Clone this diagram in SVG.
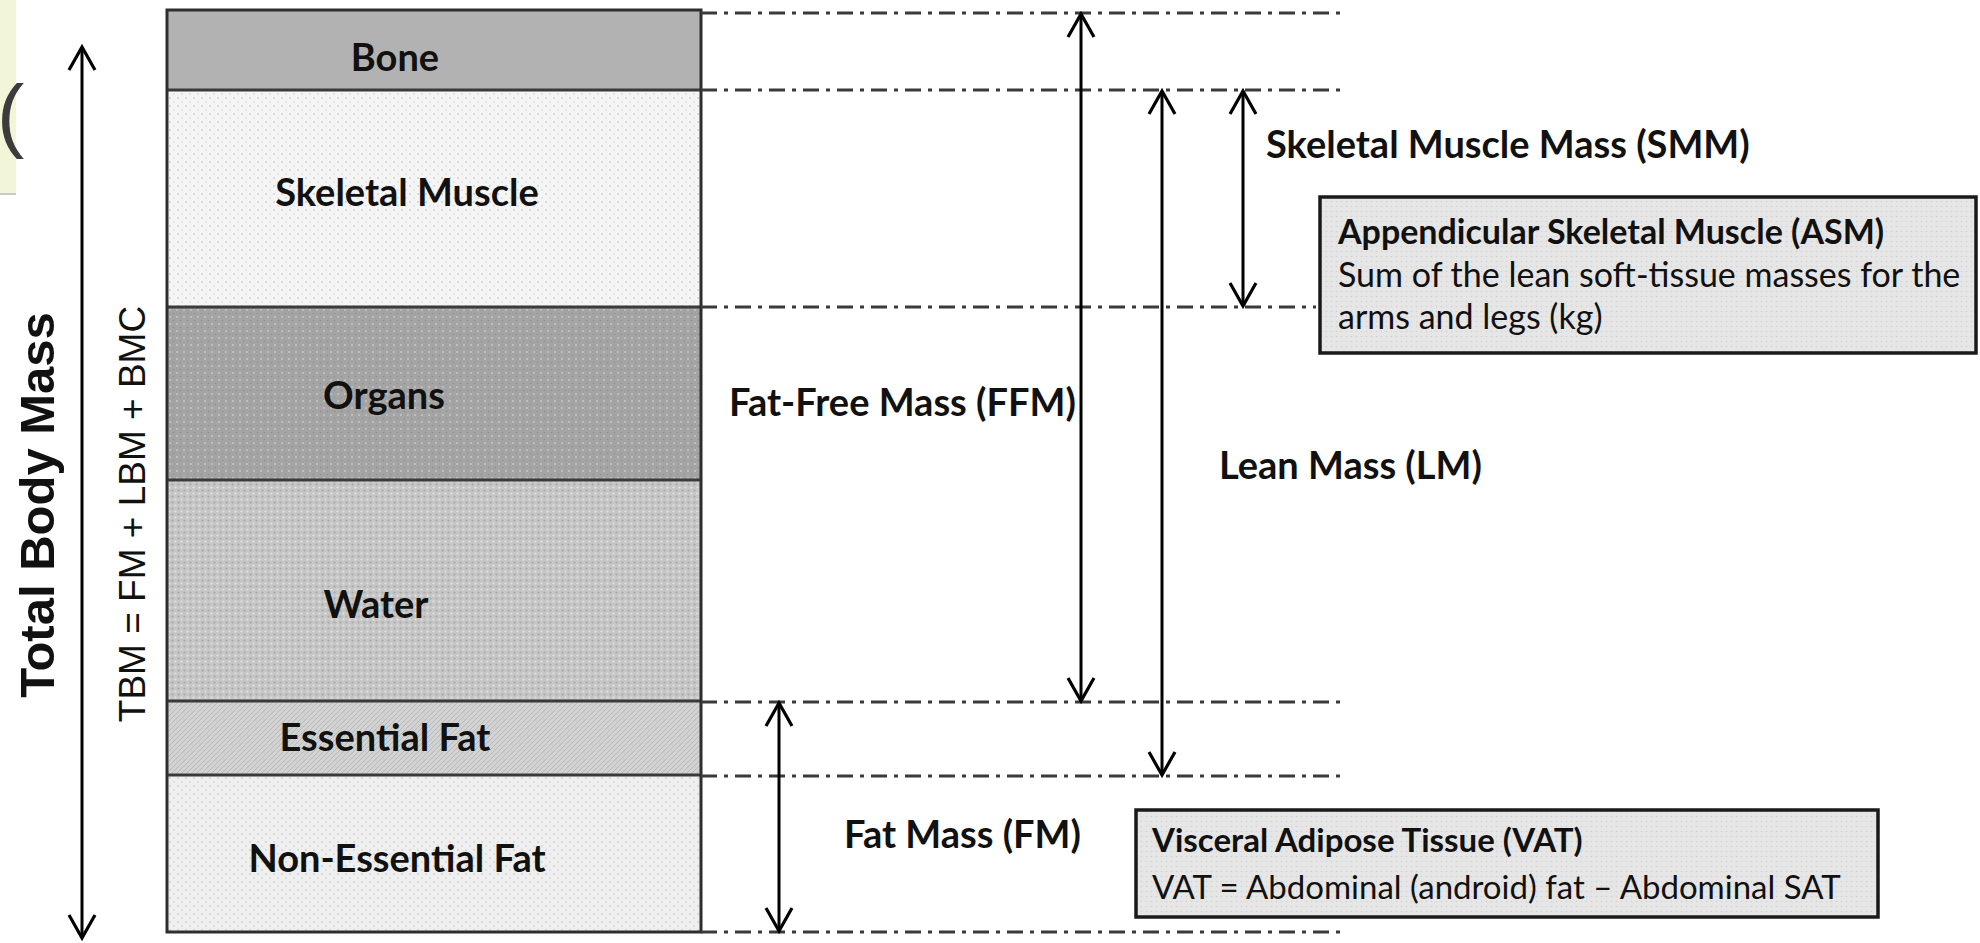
<svg xmlns="http://www.w3.org/2000/svg" width="1980" height="943" viewBox="0 0 1980 943">
<defs>
<style>
.lbl{font-family:Lato,"Liberation Sans",sans-serif;font-weight:bold;font-size:38px;fill:#111}
.box-t{font-family:Lato,"Liberation Sans",sans-serif;font-size:34px;fill:#111}
.vat-t{font-family:Lato,"Liberation Sans",sans-serif;font-size:33px;fill:#111}
.box-b{font-weight:bold}
.dash{stroke:#3a3a3a;stroke-width:3;stroke-dasharray:16 7 4 7;fill:none}
.arr{stroke:#000;stroke-width:3;fill:none;marker-start:url(#ah);marker-end:url(#ah)}
.div{stroke:#3a3a3a;stroke-width:3}
.box{stroke:#1a1a1a;stroke-width:3.5}
</style>
<marker id="ah" markerUnits="userSpaceOnUse" viewBox="-26 -16 30 32" markerWidth="30" markerHeight="32" refX="0" refY="0" orient="auto-start-reverse">
<path d="M-23,-13 L0,0 L-23,13" fill="none" stroke="#000" stroke-width="3.2"/>
</marker>
<pattern id="pSM" width="8" height="8" patternUnits="userSpaceOnUse">
<rect width="8" height="8" fill="#f5f5f5"/><circle cx="2" cy="2" r="0.9" fill="#cfcfcf"/><circle cx="6" cy="6" r="0.9" fill="#dcdcdc"/>
</pattern>
<pattern id="pOrg" width="7" height="7" patternUnits="userSpaceOnUse">
<rect width="7" height="7" fill="#a4a4a4"/><circle cx="2" cy="2" r="1" fill="#c4c4c4"/><circle cx="5.5" cy="5.5" r="0.8" fill="#8e8e8e"/>
</pattern>
<pattern id="pWat" width="6" height="6" patternUnits="userSpaceOnUse">
<rect width="6" height="6" fill="#c6c6c6"/><circle cx="1.5" cy="1.5" r="1.1" fill="#e2e2e2"/><circle cx="4.5" cy="4.5" r="1.1" fill="#a8a8a8"/>
</pattern>
<pattern id="pEF" width="5" height="5" patternUnits="userSpaceOnUse">
<rect width="5" height="5" fill="#d2d2d2"/><path d="M0,5 L5,0" stroke="#bababa" stroke-width="1"/>
</pattern>
<pattern id="pNEF" width="8" height="8" patternUnits="userSpaceOnUse">
<rect width="8" height="8" fill="#efefef"/><circle cx="2" cy="2" r="1" fill="#d4d4d4"/><circle cx="6" cy="6" r="1" fill="#dadada"/>
</pattern>
<pattern id="pBox" width="5" height="5" patternUnits="userSpaceOnUse">
<rect width="5" height="5" fill="#e6e6e6"/><circle cx="1.5" cy="1.5" r="0.8" fill="#d2d2d2"/>
</pattern>
</defs>

<rect id="bg" x="0" y="0" width="1980" height="943" fill="#ffffff"/>

<g id="corner">
<rect x="0" y="0" width="16" height="194" fill="#f3f5d8"/>
<line x1="0" y1="194" x2="16" y2="194" stroke="#c9c9c9" stroke-width="2"/>
<text x="-3" y="142" font-family="'Liberation Sans',sans-serif" font-size="82" fill="#3c3c3c">(</text>
</g>

<g id="tbm-axis">
<text transform="translate(54,505) rotate(-90)" text-anchor="middle" font-family="'Liberation Sans',sans-serif" font-weight="bold" font-size="49" fill="#111">Total Body Mass</text>
<text transform="translate(145,514) rotate(-90)" text-anchor="middle" font-family="'Liberation Sans',sans-serif" font-size="37" fill="#111">TBM = FM + LBM + BMC</text>
</g>

<g id="bone"><rect x="167" y="10" width="534" height="80" fill="#b2b2b2"/><text class="lbl" x="395" y="71" text-anchor="middle">Bone</text></g>
<g id="skeletal-muscle"><rect x="167" y="90" width="534" height="217" fill="url(#pSM)"/><text class="lbl" x="407" y="206" text-anchor="middle">Skeletal Muscle</text></g>
<g id="organs"><rect x="167" y="307" width="534" height="173" fill="url(#pOrg)"/><text class="lbl" x="384" y="409" text-anchor="middle">Organs</text></g>
<g id="water"><rect x="167" y="480" width="534" height="221" fill="url(#pWat)"/><text class="lbl" x="376" y="618" text-anchor="middle">Water</text></g>
<g id="essential-fat"><rect x="167" y="701" width="534" height="74" fill="url(#pEF)"/><text class="lbl" x="385" y="751" text-anchor="middle">Essential Fat</text></g>
<g id="non-essential-fat"><rect x="167" y="775" width="534" height="157" fill="url(#pNEF)"/><text class="lbl" x="397" y="872" text-anchor="middle">Non-Essential Fat</text></g>

<g id="column-lines">
<line class="div" x1="167" y1="90" x2="701" y2="90"/>
<line class="div" x1="167" y1="307" x2="701" y2="307"/>
<line class="div" x1="167" y1="480" x2="701" y2="480" stroke-width="4.5"/>
<line class="div" x1="167" y1="701" x2="701" y2="701"/>
<line class="div" x1="167" y1="775" x2="701" y2="775"/>
<rect x="167" y="10" width="534" height="922" fill="none" stroke="#2e2e2e" stroke-width="3"/>
</g>

<g id="connectors">
<line class="dash" x1="701" y1="13" x2="1346" y2="13"/>
<line class="dash" x1="701" y1="90" x2="1342" y2="90"/>
<line class="dash" x1="701" y1="307" x2="1316" y2="307"/>
<line class="dash" x1="701" y1="702" x2="1344" y2="702"/>
<line class="dash" x1="701" y1="776" x2="1344" y2="776"/>
<line class="dash" x1="701" y1="932" x2="1344" y2="932"/>
<line class="arr" x1="82" y1="47" x2="82" y2="938"/>
<line class="arr" x1="1081" y1="14" x2="1081" y2="701"/>
<line class="arr" x1="1162" y1="91" x2="1162" y2="775"/>
<line class="arr" x1="1243" y1="91" x2="1243" y2="306"/>
<line class="arr" x1="779" y1="703" x2="779" y2="931"/>
</g>

<g id="labels">
<text class="lbl" x="1266" y="158">Skeletal Muscle Mass (SMM)</text>
<text class="lbl" x="729" y="416">Fat-Free Mass (FFM)</text>
<text class="lbl" x="1219" y="479">Lean Mass (LM)</text>
<text class="lbl" x="844" y="848">Fat Mass (FM)</text>
</g>

<g id="asm-box">
<rect class="box" x="1320" y="197" width="656" height="156" fill="url(#pBox)"/>
<text class="box-t box-b" x="1338" y="244">Appendicular Skeletal Muscle (ASM)</text>
<text class="box-t" x="1338" y="287">Sum of the lean soft-tissue masses for the</text>
<text class="box-t" x="1338" y="329">arms and legs (kg)</text>
</g>

<g id="vat-box">
<rect class="box" x="1136" y="810" width="742" height="107" fill="url(#pBox)"/>
<text class="vat-t box-b" x="1152" y="852">Visceral Adipose Tissue (VAT)</text>
<text class="vat-t" x="1152" y="899">VAT = Abdominal (android) fat – Abdominal SAT</text>
</g>
</svg>
